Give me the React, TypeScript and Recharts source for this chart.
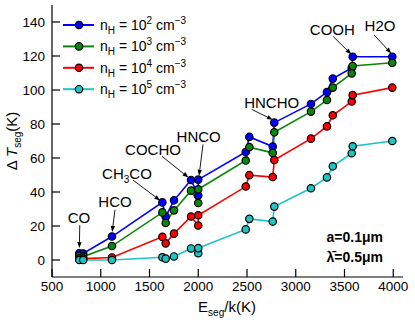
import { LineChart, Line, XAxis, YAxis, ReferenceLine, ReferenceDot, Customized } from 'recharts'

document.body.style.margin = '0'

const FONT = '"Liberation Sans", Arial, sans-serif'

// E_seg/k (K) of the points, lower value first where two share an energy
const eseg = [780, 820, 1115, 1632, 1666, 1751, 1926, 2000, 2000, 2487, 2524, 2764, 2780, 3156, 3320, 3380, 3574, 3584, 3990]
const nH1e2 = [4, 3.8, 13.8, 33.9, 25.5, 35.1, 47.1, 38, 47.3, 63.5, 72.4, 66.7, 80.8, 91.8, 98.8, 106.7, 113, 119.6, 119.6]
const nH1e3 = [2.5, 2, 8.2, 28, 21.8, 29.2, 40.8, 33.5, 41.6, 58.5, 66.4, 63, 75.1, 87.3, 94.1, 101.4, 109.8, 114.1, 116]
const nH1e4 = [1, 0.8, 1.5, 13.6, 9.8, 15.5, 25.6, 20.3, 26.3, 43.2, 49.9, 48.8, 58.8, 71.4, 78.6, 85.1, 93.2, 97, 101.4]
const nH1e5 = [0, 0, 0, 1.6, 0.8, 2.1, 6.8, 4, 7, 18, 24.2, 22.6, 31.4, 42.2, 48.6, 55.1, 62.8, 66.9, 70]

const xTicks = [500, 1000, 1500, 2000, 2500, 3000, 3500, 4000]
const yTicks = [0, 20, 40, 60, 80, 100, 120, 140]

const series = [
  { key: 'n2', exp: '2', color: '#0000ff', values: nH1e2 },
  { key: 'n3', exp: '3', color: '#0a870a', values: nH1e3 },
  { key: 'n4', exp: '4', color: '#ff0000', values: nH1e4 },
  { key: 'n5', exp: '5', color: '#1cc4c4', values: nH1e5 },
]

// molecule labels: text centre (tx, ty), arrow from (ax, ay) to (bx, by)
const molecules = [
  { name: 'CO', tx: 777, ty: 25, ax: 785, ay: 20.5, bx: 780, by: 7 },
  { name: 'HCO', tx: 1146, ty: 34, ax: 1146, ay: 29.5, bx: 1117, by: 16.5 },
  { name: 'CH3CO', tx: 1269, ty: 51, ax: 1331, ay: 47, bx: 1610, by: 35 },
  { name: 'COCHO', tx: 1536, ty: 65, ax: 1628, ay: 61, bx: 1900, by: 48.5 },
  { name: 'HNCO', tx: 2004, ty: 72.5, ax: 2049, ay: 68, bx: 2008, by: 49.5 },
  { name: 'HNCHO', tx: 2753, ty: 92.6, ax: 2548, ay: 88.6, bx: 2765, by: 82.5 },
  { name: 'COOH', tx: 3375, ty: 135.3, ax: 3385, ay: 131.4, bx: 3570, by: 121 },
  { name: 'H2O', tx: 3864, ty: 137.6, ax: 3803, ay: 132.4, bx: 3980, by: 121.5 },
]

const rows = eseg.map((x, i) => {
  const r: any = { x }
  series.forEach((s) => (r[s.key] = s.values[i]))
  return r
})

const BottomTick = ({ x, y, payload }: any) => (
  <g>
    <line x1={x} x2={x} y1={y} y2={y - 8} stroke='#000' strokeWidth={1.2} />
    <text x={x} y={y + 14} textAnchor='middle' fontSize={13.5} fontFamily={FONT} fill='#000'>
      {payload.value}
    </text>
  </g>
)
const TopTick = ({ x, y }: any) => <line x1={x} x2={x} y1={y} y2={y + 9} stroke='#000' strokeWidth={1.2} />
const LeftTick = ({ x, y, payload }: any) => (
  <g>
    <line x1={x} x2={x + 8} y1={y} y2={y} stroke='#000' strokeWidth={1.2} />
    <text x={x - 7} y={y} dy='0.35em' textAnchor='end' fontSize={13.5} fontFamily={FONT} fill='#000'>
      {payload.value}
    </text>
  </g>
)
const RightTick = ({ x, y }: any) => <line x1={x} x2={x - 8} y1={y} y2={y} stroke='#000' strokeWidth={1.2} />

const Arrow = (p: any) => {
  const { x1, y1, x2, y2 } = p
  const a = Math.atan2(y2 - y1, x2 - x1)
  const L = 6
  const W = 2.2
  const bx = x2 - L * Math.cos(a)
  const by = y2 - L * Math.sin(a)
  const pts = `${x2},${y2} ${bx + W * Math.sin(a)},${by - W * Math.cos(a)} ${bx - W * Math.sin(a)},${by + W * Math.cos(a)}`
  return (
    <g>
      <line x1={x1} y1={y1} x2={bx} y2={by} stroke='#000' strokeWidth={0.9} />
      <polygon points={pts} fill='#000' />
    </g>
  )
}

const molText = (name: string) => {
  if (name === 'CH3CO')
    return (
      <>
        CH<tspan dy={4} fontSize={10}>3</tspan>
        <tspan dy={-4}>CO</tspan>
      </>
    )
  return name
}

const Decor = () => (
  <g fontFamily={FONT} fill='#000'>
    {series.map((s, i) => {
      const y = 25 + i * 21.4
      return (
        <g key={s.key}>
          <line x1={63} x2={94} y1={y} y2={y} stroke={s.color} strokeWidth={2} />
          <circle cx={79} cy={y} r={3.7} fill={s.color} stroke='#000' strokeWidth={1.2} />
          <text x={100} y={y + 5} fontSize={14}>
            n<tspan dy={4} fontSize={10}>H</tspan>
            <tspan dy={-4}> = 10</tspan>
            <tspan dy={-6} fontSize={10}>{s.exp}</tspan>
            <tspan dy={6}> cm</tspan>
            <tspan dy={-6} fontSize={10}>−3</tspan>
          </text>
        </g>
      )
    })}
    <text x={383} y={242} textAnchor='end' fontSize={14} fontWeight='bold'>a=0.1μm</text>
    <text x={383} y={262} textAnchor='end' fontSize={14} fontWeight='bold'>λ̄=0.5μm</text>
    <text x={227} y={312} textAnchor='middle' fontSize={15}>
      E<tspan dy={4} fontSize={10}>seg</tspan>
      <tspan dy={-4}>/k(K)</tspan>
    </text>
    <text transform='translate(17,141) rotate(-90)' textAnchor='middle' fontSize={15}>
      Δ <tspan fontStyle='italic'>T</tspan>
      <tspan dy={4} fontSize={10}>seg</tspan>
      <tspan dy={-4}>(K)</tspan>
    </text>
  </g>
)

export default function App() {
  return (
    <LineChart width={415} height={320} data={rows} margin={{ top: 5, right: 12, bottom: 0, left: 0 }}>
      <XAxis
        xAxisId='bottom'
        dataKey='x'
        type='number'
        domain={[500, 4100]}
        ticks={xTicks}
        height={43}
        tickSize={0}
        tickMargin={0}
        tick={<BottomTick />}
        tickLine={false}
        axisLine={{ stroke: '#000', strokeWidth: 1.2 }}
        interval={0}
      />
      <XAxis
        xAxisId='top'
        orientation='top'
        type='number'
        domain={[500, 4100]}
        ticks={xTicks}
        height={0}
        tickSize={0}
        tickMargin={0}
        tick={<TopTick />}
        tickLine={false}
        axisLine={{ stroke: '#000', strokeWidth: 1.2 }}
        interval={0}
      />
      <YAxis
        yAxisId='left'
        type='number'
        domain={[-10, 150]}
        ticks={yTicks}
        width={52}
        tickSize={0}
        tickMargin={0}
        tick={<LeftTick />}
        tickLine={false}
        axisLine={{ stroke: '#000', strokeWidth: 1.2 }}
        interval={0}
      />
      <YAxis
        yAxisId='right'
        orientation='right'
        type='number'
        domain={[-10, 150]}
        ticks={yTicks}
        width={0}
        tickSize={0}
        tickMargin={0}
        tick={<RightTick />}
        tickLine={false}
        axisLine={{ stroke: '#000', strokeWidth: 1.2 }}
        interval={0}
      />
      {series.map((s) => (
        <Line
          key={s.key}
          xAxisId='bottom'
          yAxisId='left'
          dataKey={s.key}
          stroke={s.color}
          strokeWidth={1.6}
          dot={{ r: 3.7, fill: s.color, stroke: '#000', strokeWidth: 1.2 }}
          isAnimationActive={false}
        />
      ))}
      {molecules.map((m) => (
        <ReferenceLine
          key={'a' + m.name}
          xAxisId='bottom'
          yAxisId='left'
          segment={[
            { x: m.ax, y: m.ay },
            { x: m.bx, y: m.by },
          ]}
          shape={Arrow}
        />
      ))}
      {molecules.map((m) => (
        <ReferenceDot
          key={'t' + m.name}
          xAxisId='bottom'
          yAxisId='left'
          x={m.tx}
          y={m.ty}
          r={0}
          shape={(p: any) => (
            <text x={p.cx} y={p.cy} dy='0.35em' textAnchor='middle' fontSize={15} fontFamily={FONT} fill='#000'>
              {molText(m.name)}
            </text>
          )}
        />
      ))}
      <Customized component={Decor} />
    </LineChart>
  )
}
